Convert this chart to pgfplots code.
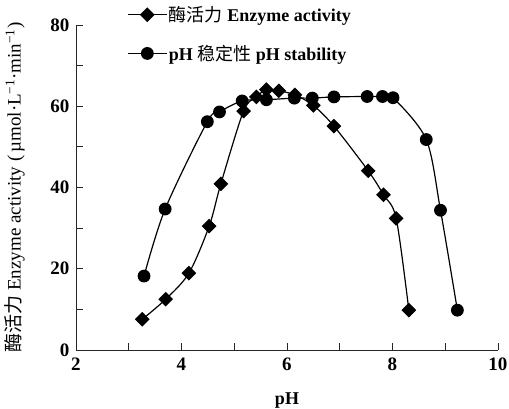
\documentclass[border=0pt]{standalone}
\usepackage{fontspec}
\setmainfont{Liberation Serif}
\newfontfamily\cjk{Noto Sans CJK SC}
\usepackage{pgfplots}
\pgfplotsset{compat=1.18}
\begin{document}
\begin{tikzpicture}[font=\fontsize{18}{21}\selectfont]
\begin{axis}[
  scale only axis, width=422pt, height=325pt,
  xmin=2, xmax=10, ymin=0, ymax=80,
  axis lines*=left,
  xtick={2,4,...,10}, minor xtick={3,5,7,9},
  ytick={0,20,...,80}, minor ytick={10,30,50,70},
  tick align=inside, major tick length=7pt, minor tick length=7pt,
  every tick/.style={black!85, line width=0.8pt},
  axis line style={black!85, line width=0.8pt},
  /pgf/number format/assume math mode=true,
  tick label style={font=\fontsize{19}{22}\selectfont\bfseries},
  xticklabel style={yshift=-4pt},
  yticklabel style={xshift=-3pt},
  xlabel={\bfseries pH},
  xlabel style={at={(axis description cs:0.5,-0.154)}, anchor=center},
  ylabel={{\cjk 酶活力} Enzyme activity (\,µmol·L\textsuperscript{−1}·min\textsuperscript{−1})},
  ylabel style={at={(axis description cs:-0.145,0.5)}, anchor=center, font=\fontsize{19}{22}\selectfont},
  legend style={draw=none, fill=none, at={(axis description cs:0.115,1.07)}, anchor=north west,
    row sep=18pt, font=\fontsize{18}{21}\selectfont\bfseries},
  legend cell align=left,
  legend image code/.code={\draw[#1, mark repeat=2, mark phase=2] plot coordinates {(0pt,0pt) (19pt,0pt) (38pt,0pt)};},
]
\addplot[black, line width=1.2pt, smooth, tension=0.5, mark=square*, mark size=4.6pt, mark options={rotate=45, solid}]
coordinates {
(3.256,7.55) (3.70,12.5) (4.14,18.9) (4.525,30.5) (4.746,40.9) (5.176,58.8)
(5.42,62.3) (5.61,64.1) (5.845,63.8) (6.15,62.8) (6.50,60.2) (6.89,55.1)
(7.54,44.1) (7.83,38.2) (8.07,32.4) (8.31,9.8)
};
\addlegendentry{{\cjk\mdseries 酶活力} Enzyme activity}
\addplot[black, line width=1.2pt, smooth, tension=0.5, mark=*, mark size=5.8pt, mark options={solid}]
coordinates {
(3.29,18.2) (3.69,34.7) (4.49,56.2) (4.72,58.6) (5.15,61.3) (5.61,61.6)
(6.14,62.0) (6.48,62.0) (6.89,62.3) (7.52,62.4) (7.81,62.4) (8.01,62.1)
(8.64,51.8) (8.91,34.4) (9.23,9.8)
};
\addlegendentry{pH {\cjk\mdseries 稳定性} pH stability}
\end{axis}
\pgfresetboundingbox
\useasboundingbox (-76pt,-59pt) rectangle (433pt,350pt);
\end{tikzpicture}
\end{document}
